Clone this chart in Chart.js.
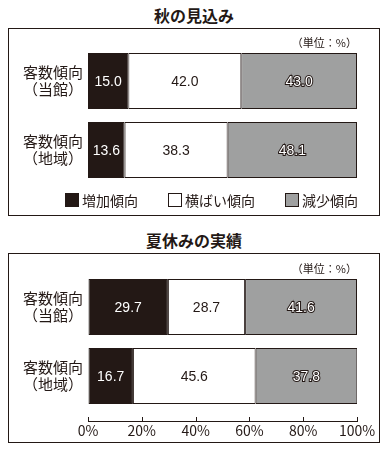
<!DOCTYPE html>
<html lang="ja">
<head>
<meta charset="utf-8">
<script src="https://cdn.jsdelivr.net/npm/chart.js@4"></script>
<style>
  body { margin: 0; background: #fff; font-family: "Noto Sans CJK JP", sans-serif; color: #231815; }
  .title { position: absolute; left: 0; width: 388px; text-align: center; font-size: 16px; font-weight: bold; line-height: 20px; }
  .box { position: absolute; left: 8px; width: 372px; border: 1px solid #231815; box-sizing: border-box; }
  .box canvas { position: absolute; left: 0; top: 0; }
</style>
</head>
<body>
<div class="title" style="top:5px">秋の見込み</div>
<div class="box" style="top:28px;height:188px"><canvas id="autumnChart" width="370" height="186"></canvas></div>
<div class="title" style="top:230px">夏休みの実績</div>
<div class="box" style="top:253px;height:190px"><canvas id="summerChart" width="370" height="188"></canvas></div>

<script>
// データ
const rowLabels = [["客数傾向", "（当館）"], ["客数傾向", "（地域）"]];
const seriesNames = ["増加傾向", "横ばい傾向", "減少傾向"];
const autumnIncrease = [15.0, 13.6];
const autumnFlat = [42.0, 38.3];
const autumnDecrease = [43.0, 48.1];
const summerIncrease = [29.7, 16.7];
const summerFlat = [28.7, 45.6];
const summerDecrease = [41.6, 37.8];
const xTickLabels = ["0%", "20%", "40%", "60%", "80%", "100%"];
const unitText = "（単位：%）";

const INK = "#231815";
const GRAY = "#9fa0a0";
const seriesColors = [INK, "#ffffff", GRAY];
const valueColors = ["#ffffff", INK, "#ffffff"];
const JP_FONT = '"Noto Sans CJK JP", sans-serif';

// 棒の中の数値
const valueLabels = {
  id: "valueLabels",
  afterDatasetsDraw(chart) {
    const ctx = chart.ctx;
    ctx.save();
    ctx.font = '14px "Liberation Sans", Arial, sans-serif';
    ctx.textAlign = "center";
    ctx.textBaseline = "middle";
    chart.data.datasets.forEach((ds, s) => {
      chart.getDatasetMeta(s).data.forEach((bar, i) => {
        const p = bar.getCenterPoint();
        const txt = ds.data[i].x.toFixed(1);
        if (s === 2) {
          ctx.lineWidth = 2;
          ctx.strokeStyle = INK;
          ctx.strokeText(txt, p.x, p.y + 1);
        }
        ctx.fillStyle = valueColors[s];
        ctx.fillText(txt, p.x, p.y + 1);
      });
    });
    ctx.restore();
  },
};

// （単位：%）
const unitLabel = {
  id: "unitLabel",
  afterDraw(chart) {
    const { ctx, chartArea } = chart;
    ctx.save();
    ctx.font = "11px " + JP_FONT;
    ctx.fillStyle = INK;
    ctx.textAlign = "right";
    ctx.textBaseline = "middle";
    ctx.fillText(unitText, chartArea.right, chartArea.top - 4);
    ctx.restore();
  },
};

// 凡例（上のグラフだけ）
const boxLegend = {
  id: "boxLegend",
  afterDraw(chart) {
    const { ctx, chartArea } = chart;
    const boxSize = 14, boxGap = 3, itemGap = 30;
    ctx.save();
    ctx.font = "14px " + JP_FONT;
    const widths = seriesNames.map((n) => ctx.measureText(n).width);
    const total = widths.reduce((a, w) => a + boxSize + boxGap + w, 0) + itemGap * 2;
    let x = chartArea.right + 1 - total;
    const y = chartArea.bottom + 15.5;
    ctx.textBaseline = "middle";
    ctx.lineWidth = 1;
    seriesNames.forEach((name, s) => {
      ctx.fillStyle = seriesColors[s];
      ctx.fillRect(x, y - 7, boxSize, boxSize);
      ctx.strokeStyle = INK;
      ctx.strokeRect(x + 0.5, y - 6.5, boxSize - 1, boxSize - 1);
      ctx.fillStyle = INK;
      ctx.fillText(name, x + boxSize + boxGap, y + 1);
      x += boxSize + boxGap + widths[s] + itemGap;
    });
    ctx.restore();
  },
};

// 目盛り線（軸の上側に短く）
const innerTicks = {
  id: "innerTicks",
  afterDraw(chart) {
    const { ctx, chartArea } = chart;
    const xs = chart.scales.x;
    ctx.save();
    ctx.strokeStyle = INK;
    ctx.lineWidth = 1;
    ctx.beginPath();
    xs.ticks.forEach((t) => {
      const px = Math.round(xs.getPixelForValue(t.value)) + 0.5;
      ctx.moveTo(px, chartArea.bottom - 4);
      ctx.lineTo(px, chartArea.bottom);
    });
    ctx.stroke();
    ctx.restore();
  },
};

function makeChart(canvasId, series, cfg) {
  const ctx = document.getElementById(canvasId).getContext("2d");
  return new Chart(ctx, {
    type: "bar",
    data: {
      datasets: series.map((values, s) => ({
        label: seriesNames[s],
        data: values.map((v, i) => ({ x: v, y: i })),
        backgroundColor: seriesColors[s],
        borderColor: INK,
        borderWidth: 1,
        borderSkipped: false,
        barPercentage: 56 / 69,
        categoryPercentage: 1,
      })),
    },
    options: {
      indexAxis: "y",
      responsive: false,
      animation: false,
      layout: { padding: cfg.padding },
      plugins: {
        legend: { display: false },
        tooltip: { enabled: false },
      },
      scales: {
        x: {
          type: "linear",
          stacked: true,
          min: 0,
          max: 100,
          display: cfg.showAxis,
          afterFit: (scale) => { if (cfg.showAxis) scale.height = 21; },
          grid: { drawOnChartArea: false, drawTicks: false },
          border: { display: true, color: INK, width: 1 },
          ticks: {
            stepSize: 20,
            padding: 1,
            maxRotation: 0,
            autoSkip: false,
            color: INK,
            font: { family: JP_FONT, size: 14 },
            callback: (v, i) => xTickLabels[i],
          },
        },
        y: {
          type: "linear",
          stacked: true,
          reverse: true,
          offset: false,
          min: -0.5,
          max: cfg.yMax,
          afterBuildTicks: (scale) => {
            scale.ticks = rowLabels.map((_, i) => ({ value: i }));
          },
          afterFit: (scale) => {
            scale.width = 79;
            scale.paddingTop = 0;
            scale.paddingBottom = 0;
          },
          grid: { display: false, drawTicks: false },
          border: { display: false },
          ticks: {
            padding: 5,
            color: INK,
            font: { family: JP_FONT, size: 15, lineHeight: 1.13 },
            callback: (v) => rowLabels[v],
          },
        },
      },
    },
    plugins: cfg.plugins,
  });
}

makeChart("autumnChart", [autumnIncrease, autumnFlat, autumnDecrease], {
  showAxis: false,
  yMax: 1.5,
  padding: { top: 17.5, right: 22, bottom: 30.5, left: 0 },
  plugins: [valueLabels, unitLabel, boxLegend],
});

makeChart("summerChart", [summerIncrease, summerFlat, summerDecrease], {
  showAxis: true,
  yMax: 1.652,
  padding: { top: 18.5, right: 22, bottom: 0, left: 0 },
  plugins: [valueLabels, unitLabel, innerTicks],
});
</script>
</body>
</html>
